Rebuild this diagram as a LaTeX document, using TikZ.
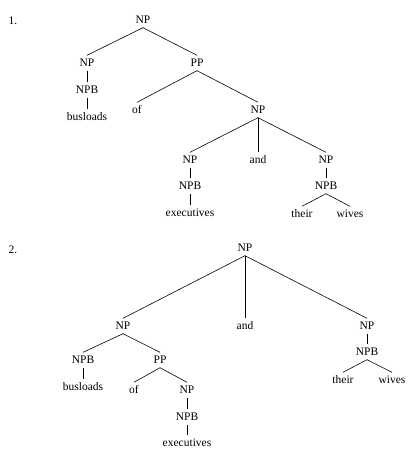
\documentclass[tikz,border=0pt]{standalone}
\usepackage{fontspec}
\setmainfont{Liberation Serif}
\begin{document}
\begin{tikzpicture}[x=1pt,y=-1pt,
  lab/.style={font=\fontsize{11.5}{13}\selectfont, text height=7pt, text depth=0pt, inner xsep=1pt, inner ysep=4pt},
  edge/.style={line width=0.6pt}]
\useasboundingbox (0,0) rectangle (410,460);
% Tree 1
\node[lab] (n1) at (13,21) {1.};
\node[lab] (a) at (143,20) {NP};
\node[lab] (b) at (87,63) {NP};
\node[lab] (c) at (197,63) {PP};
\node[lab] (d) at (87,90) {NPB};
\node[lab] (e) at (87,117) {busloads};
\node[lab] (f) at (137,110) {of};
\node[lab] (g) at (258,110) {NP};
\node[lab] (h) at (190,160) {NP};
\node[lab] (i) at (258,160) {and};
\node[lab] (j) at (326,160) {NP};
\node[lab] (k) at (190,186) {NPB};
\node[lab] (l) at (190,213) {executives};
\node[lab] (m) at (326,186) {NPB};
\node[lab] (o) at (302,214) {their};
\node[lab] (p) at (350,214) {wives};
\draw[edge] (a.south) -- (b.north);
\draw[edge] (a.south) -- (c.north);
\draw[edge] (b.south) -- (d.north);
\draw[edge] (d.south) -- (e.north);
\draw[edge] (c.south) -- (f.north);
\draw[edge] (c.south) -- (g.north);
\draw[edge] (g.south) -- (h.north);
\draw[edge] (g.south) -- (i.north);
\draw[edge] (g.south) -- (j.north);
\draw[edge] (h.south) -- (k.north);
\draw[edge] (k.south) -- (l.north);
\draw[edge] (j.south) -- (m.north);
\draw[edge] (m.south) -- (o.north);
\draw[edge] (m.south) -- (p.north);
% Tree 2
\node[lab] (n2) at (13,250) {2.};
\node[lab] (A) at (245,248) {NP};
\node[lab] (B) at (123,326) {NP};
\node[lab] (C) at (245,326) {and};
\node[lab] (D) at (367,326) {NP};
\node[lab] (E) at (83,360) {NPB};
\node[lab] (F) at (160,360) {PP};
\node[lab] (G) at (83,387) {busloads};
\node[lab] (H) at (134,390) {of};
\node[lab] (I) at (187,390) {NP};
\node[lab] (J) at (187,417) {NPB};
\node[lab] (K) at (187,443) {executives};
\node[lab] (L) at (367,352) {NPB};
\node[lab] (M) at (343,380) {their};
\node[lab] (N) at (392,380) {wives};
\draw[edge] (A.south) -- (B.north);
\draw[edge] (A.south) -- (C.north);
\draw[edge] (A.south) -- (D.north);
\draw[edge] (B.south) -- (E.north);
\draw[edge] (B.south) -- (F.north);
\draw[edge] (E.south) -- (G.north);
\draw[edge] (F.south) -- (H.north);
\draw[edge] (F.south) -- (I.north);
\draw[edge] (I.south) -- (J.north);
\draw[edge] (J.south) -- (K.north);
\draw[edge] (D.south) -- (L.north);
\draw[edge] (L.south) -- (M.north);
\draw[edge] (L.south) -- (N.north);
\end{tikzpicture}
\end{document}
